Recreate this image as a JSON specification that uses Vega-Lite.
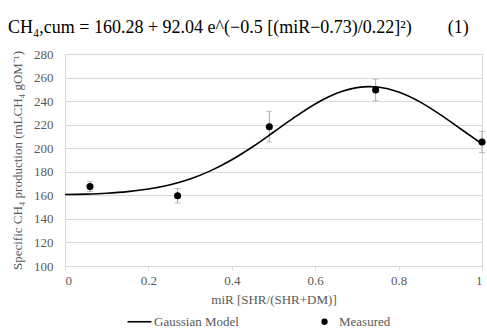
{
  "$schema": "https://vega.github.io/schema/vega-lite/v6.json",
  "width": 417,
  "height": 212,
  "autosize": "none",
  "padding": {"left": 65, "top": 54, "right": 5, "bottom": 66},
  "background": "white",
  "config": {
    "font": "Liberation Serif",
    "view": {"stroke": "#d9d9d9", "strokeWidth": 1},
    "axis": {"labelFont": "Liberation Serif", "titleFont": "Liberation Serif", "labelColor": "#595959", "titleColor": "#595959", "titleFontWeight": "normal"}
  },
  "title": {
    "text": "CH₄,cum = 160.28 + 92.04 e^(−0.5 [(miR−0.73)/0.22]²)\u2003\u2003(1)",
    "anchor": "start",
    "frame": "group",
    "dx": -57,
    "offset": 11,
    "font": "Liberation Serif",
    "fontSize": 18,
    "fontWeight": "normal",
    "color": "#000000"
  },
  "datasets": {
    "model": [
      {"miR": 0.0, "ch4": 160.66, "series": "Gaussian Model"},
      {"miR": 0.05, "ch4": 161.06, "series": "Gaussian Model"},
      {"miR": 0.1, "ch4": 161.8, "series": "Gaussian Model"},
      {"miR": 0.15, "ch4": 163.13, "series": "Gaussian Model"},
      {"miR": 0.2, "ch4": 165.34, "series": "Gaussian Model"},
      {"miR": 0.25, "ch4": 168.8, "series": "Gaussian Model"},
      {"miR": 0.3, "ch4": 173.91, "series": "Gaussian Model"},
      {"miR": 0.35, "ch4": 180.99, "series": "Gaussian Model"},
      {"miR": 0.4, "ch4": 190.17, "series": "Gaussian Model"},
      {"miR": 0.45, "ch4": 201.23, "series": "Gaussian Model"},
      {"miR": 0.5, "ch4": 213.57, "series": "Gaussian Model"},
      {"miR": 0.55, "ch4": 226.14, "series": "Gaussian Model"},
      {"miR": 0.6, "ch4": 237.58, "series": "Gaussian Model"},
      {"miR": 0.65, "ch4": 246.43, "series": "Gaussian Model"},
      {"miR": 0.7, "ch4": 251.47, "series": "Gaussian Model"},
      {"miR": 0.73, "ch4": 252.32, "series": "Gaussian Model"},
      {"miR": 0.75, "ch4": 251.94, "series": "Gaussian Model"},
      {"miR": 0.8, "ch4": 247.78, "series": "Gaussian Model"},
      {"miR": 0.85, "ch4": 239.6, "series": "Gaussian Model"},
      {"miR": 0.9, "ch4": 228.57, "series": "Gaussian Model"},
      {"miR": 0.95, "ch4": 216.11, "series": "Gaussian Model"},
      {"miR": 1.0, "ch4": 203.62, "series": "Gaussian Model"}
    ],
    "measured": [
      {"miR": 0.06, "ch4": 167.4, "lo": 163.2, "hi": 171.6, "series": "Measured"},
      {"miR": 0.27, "ch4": 159.6, "lo": 153.5, "hi": 165.7, "series": "Measured"},
      {"miR": 0.49, "ch4": 218.3, "lo": 205.3, "hi": 231.3, "series": "Measured"},
      {"miR": 0.745, "ch4": 249.4, "lo": 240.2, "hi": 258.6, "series": "Measured"},
      {"miR": 1.0, "ch4": 205.3, "lo": 196.3, "hi": 214.3, "series": "Measured"}
    ]
  },
  "encoding": {
    "x": {
      "field": "miR",
      "type": "quantitative",
      "scale": {"domain": [0, 1], "nice": false},
      "axis": {
        "title": "miR [SHR/(SHR+DM)]",
        "values": [0, 0.2, 0.4, 0.6, 0.8, 1],
        "tickCount": 10,
        "format": "~g",
        "grid": false,
        "domainColor": "#d9d9d9",
        "tickColor": "#d9d9d9",
        "tickSize": 4,
        "labelFontSize": 13,
        "labelPadding": 4,
        "labelOverlap": false,
        "titleFontSize": 13,
        "titlePadding": 6
      }
    }
  },
  "layer": [
    {
      "data": {"name": "measured"},
      "mark": {"type": "rule", "color": "#a6a6a6", "strokeWidth": 1},
      "encoding": {
        "y": {
          "field": "lo",
          "type": "quantitative",
          "scale": {"domain": [100, 280], "nice": false, "zero": false},
          "axis": {
            "title": "Specific CH₄ production  (mLCH₄ gOM⁻¹)",
            "values": [100, 120, 140, 160, 180, 200, 220, 240, 260, 280],
            "tickCount": 20,
            "grid": true,
            "gridColor": "#d9d9d9",
            "domain": false,
            "ticks": false,
            "labelOverlap": false,
            "labelFontSize": 13,
            "labelPadding": 12,
            "titleFontSize": 13,
            "titlePadding": 9
          }
        },
        "y2": {"field": "hi"}
      }
    },
    {
      "data": {"name": "measured"},
      "mark": {"type": "tick", "orient": "horizontal", "color": "#a6a6a6", "size": 6, "thickness": 1},
      "encoding": {"y": {"field": "lo", "type": "quantitative"}}
    },
    {
      "data": {"name": "measured"},
      "mark": {"type": "tick", "orient": "horizontal", "color": "#a6a6a6", "size": 6, "thickness": 1},
      "encoding": {"y": {"field": "hi", "type": "quantitative"}}
    },
    {
      "data": {"name": "model"},
      "mark": {"type": "line", "strokeWidth": 1.6, "interpolate": "monotone"},
      "encoding": {
        "y": {"field": "ch4", "type": "quantitative"},
        "color": {
          "field": "series",
          "type": "nominal",
          "scale": {"domain": ["Gaussian Model", "Measured"], "range": ["#000000", "#000000"]},
          "legend": {
            "title": null,
            "orient": "none",
            "direction": "horizontal",
            "legendX": 68,
            "legendY": 261,
            "labelOffset": 8,
            "columnPadding": 79,
            "labelFont": "Liberation Serif",
            "labelFontSize": 13,
            "labelColor": "#595959",
            "encode": {
              "symbols": {
                "update": {
                  "shape": {"signal": "datum.value === 'Measured' ? 'circle' : 'stroke'"},
                  "size": {"signal": "datum.value === 'Measured' ? 40 : 576"},
                  "fill": {"value": "#000000"},
                  "stroke": {"value": "#000000"},
                  "strokeWidth": {"signal": "datum.value === 'Measured' ? 0 : 1.6"}
                }
              }
            }
          }
        }
      }
    },
    {
      "data": {"name": "measured"},
      "mark": {"type": "point", "filled": true, "size": 50, "opacity": 1},
      "encoding": {
        "y": {"field": "ch4", "type": "quantitative"},
        "color": {"field": "series", "type": "nominal"}
      }
    }
  ]
}
